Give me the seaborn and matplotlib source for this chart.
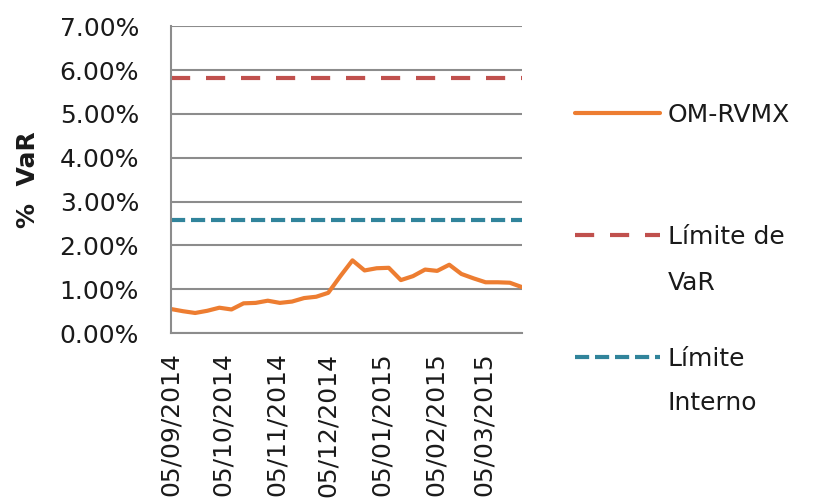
import matplotlib
matplotlib.use("Agg")
import matplotlib.pyplot as plt
import seaborn as sns
import pandas as pd
from matplotlib.lines import Line2D

dates = ["2014-09-05", "2014-09-12", "2014-09-19", "2014-09-26", "2014-10-03",
         "2014-10-10", "2014-10-17", "2014-10-24", "2014-10-31", "2014-11-07",
         "2014-11-14", "2014-11-21", "2014-11-28", "2014-12-05", "2014-12-12",
         "2014-12-19", "2014-12-26", "2015-01-02", "2015-01-09", "2015-01-16",
         "2015-01-23", "2015-01-30", "2015-02-06", "2015-02-13", "2015-02-20",
         "2015-02-27", "2015-03-06", "2015-03-13", "2015-03-20", "2015-03-27"]
var_values = [0.55, 0.50, 0.46, 0.51, 0.58, 0.54, 0.68, 0.69, 0.74, 0.69,
              0.72, 0.80, 0.83, 0.92, 1.30, 1.66, 1.43, 1.48, 1.49, 1.21,
              1.30, 1.45, 1.42, 1.56, 1.35, 1.25, 1.16, 1.16, 1.15, 1.05]
limite_var = 5.82
limite_interno = 2.57
tick_dates = ["2014-09-05", "2014-10-05", "2014-11-05", "2014-12-05",
              "2015-01-05", "2015-02-05", "2015-03-05"]
series_labels = ["OM-RVMX", "Límite de", "Límite"]
second_lines = ["VaR", "Interno"]

sns.set_theme(style="white")
plt.rcParams["font.family"] = ["DejaVu Sans"]

FS = 18
TXT = "#1a1a1a"
RED_DASH = (0, (4.6, 3.8))
TEAL_DASH = (0, (3.4, 1.4))

df = pd.DataFrame({"fecha": pd.to_datetime(dates), "var": var_values})

fig = plt.figure(figsize=(8.18, 5.04), dpi=100)
ax = fig.add_axes([0.209, 0.339, 0.429, 0.609])

sns.lineplot(data=df, x="fecha", y="var", ax=ax, color="#ED7D31", linewidth=3)
ax.axhline(limite_var, color="#C0504D", linestyle=RED_DASH, linewidth=3)
ax.axhline(limite_interno, color="#31849B", linestyle=TEAL_DASH, linewidth=3)

ax.set_ylim(0, 7)
ax.set_yticks(range(0, 8))
ax.set_yticklabels([f"{v:.2f}%" for v in range(0, 8)], fontsize=FS, color=TXT)
ax.set_xlim(df["fecha"].iloc[0], df["fecha"].iloc[-1])
tick_dt = pd.to_datetime(tick_dates)
ax.set_xticks(tick_dt)
ax.set_xticklabels([d.strftime("%d/%m/%Y") for d in tick_dt], rotation=90,
                   fontsize=FS, color=TXT)
ax.tick_params(axis="y", length=0, pad=23)
ax.tick_params(axis="x", length=0, pad=14)
ax.set_xlabel("")
ax.set_ylabel("%  VaR", fontsize=FS, fontweight="bold", color=TXT)
ax.yaxis.set_label_coords(-(171 - 40) / 351, 0.5)

ax.grid(axis="y", color="#8C8C8C", linewidth=1.5)
ax.grid(axis="x", visible=False)
for s in ["top", "right"]:
    ax.spines[s].set_visible(False)
for s in ["left", "bottom"]:
    ax.spines[s].set_color("#8C8C8C")
    ax.spines[s].set_linewidth(1.5)

handles = [Line2D([], [], color="#ED7D31", linewidth=3),
           Line2D([], [], color="#C0504D", linestyle=RED_DASH, linewidth=3),
           Line2D([], [], color="#31849B", linestyle=TEAL_DASH, linewidth=3)]
leg = fig.legend(handles, series_labels, loc="upper left",
                 bbox_to_anchor=(575 / 818, 1 - 103 / 504), frameon=False,
                 fontsize=FS, handlelength=3.4, handletextpad=0.3,
                 labelspacing=3.92, borderpad=0, borderaxespad=0)
for t in leg.get_texts():
    t.set_color(TXT)
fig.text(668 / 818, 1 - 283 / 504, second_lines[0], fontsize=FS, va="center",
         ha="left", color=TXT)
fig.text(668 / 818, 1 - 403 / 504, second_lines[1], fontsize=FS, va="center",
         ha="left", color=TXT)

fig.savefig("out.png", dpi=100)
